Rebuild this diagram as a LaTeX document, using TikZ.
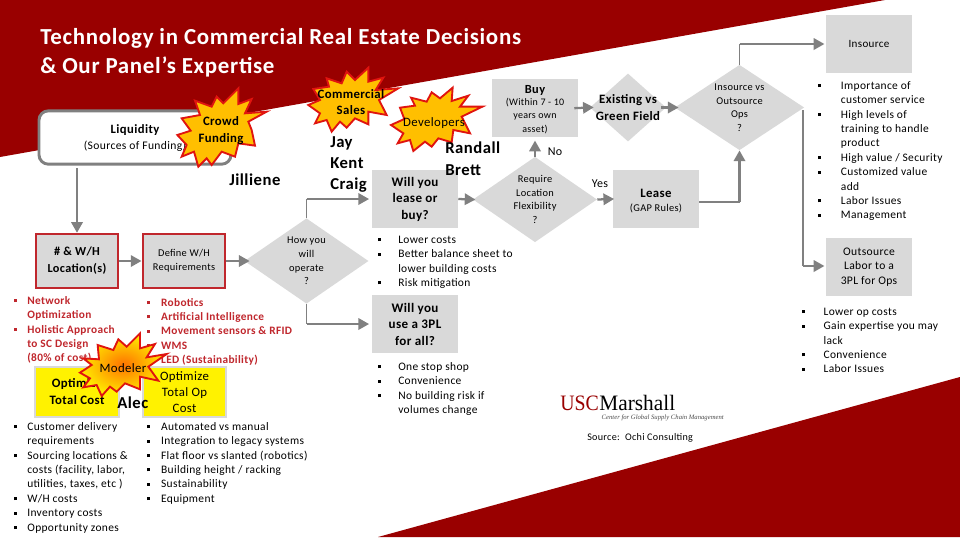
\documentclass[tikz,border=0pt]{standalone}
\usepackage{fontspec}
\setmainfont{Carlito}[LetterSpace=3]
\newfontfamily\serifl{Liberation Serif}
\usetikzlibrary{shapes.geometric,arrows.meta}
\definecolor{dred}{HTML}{990000}
\definecolor{lgray}{HTML}{D9D9D9}
\definecolor{agray}{HTML}{808080}
\definecolor{bred}{HTML}{C0272D}
\definecolor{sred}{HTML}{E0140F}
\definecolor{sfill}{HTML}{FFBF00}
\newlength\bind
\newcommand\bl[1]{\makebox[\bind][l]{\raisebox{1.6pt}{\rule{2.2pt}{2.2pt}}}\strut #1}
\newcommand\cl[1]{\hspace*{\bind}\strut #1}
\newcommand\Fs[2]{\fontsize{#1}{#2}\selectfont}
\tikzset{
  gbox/.style={fill=lgray,minimum width=64.5pt,minimum height=43.5pt,inner sep=0pt,align=center},
  rbox/.style={gbox,draw=bred,line width=1.3pt,minimum width=61.5pt,minimum height=41pt},
  ybox/.style={fill=yellow,draw=lgray,line width=1.3pt,minimum width=62.5pt,minimum height=37pt,inner sep=0pt,align=center},
  dia/.style={diamond,fill=lgray,inner sep=0pt},
  txt/.style={inner sep=0pt,align=center},
  person/.style={inner sep=0pt,anchor=west,font=\bfseries\Fs{12.5}{15}},
  lst/.style={inner sep=0pt,anchor=north west,align=left,font=\Fs{8.6}{10.8},execute at begin node={\setlength\bind{#1}}},
  thinl/.style={draw=agray,line width=.9pt},
  arr/.style={draw=agray,line width=1.7pt,-{Triangle[length=8pt,width=8.5pt]}},
  starb/.style={draw=sred,line width=1.4pt,fill=sfill,miter limit=6},
}
\begin{document}
\begin{tikzpicture}[x=.75pt,y=-.75pt]
\useasboundingbox (0,0) rectangle (960,540);
\fill[white] (0,0) rectangle (960,540);
% wedges
\fill[dred] (0,0) -- (885,0) -- (0,157) -- cycle;
\fill[dred] (378,537) -- (960,377) -- (960,537) -- cycle;
% title
\node[inner sep=0pt,anchor=west,text=white,font=\Fs{17.2}{22}] (title1) at (40,38) {\bfseries Technology in Commercial Real Estate Decisions};
\node[inner sep=0pt,anchor=west,text=white,font=\Fs{17.2}{22}] (title2) at (40,67) {\bfseries \& Our Panel’s Expertise};
% liquidity
\node[draw=agray,line width=2.2pt,fill=white,rounded corners=7pt,minimum width=144pt,minimum height=40pt,inner sep=0pt] (liq) at (135,137.5) {};
\node[txt,font=\bfseries\Fs{9.5}{12}] (liqt) at (135,130) {Liquidity};
\node[txt,font=\Fs{8.7}{12}] (liqs) at (135,146) {(Sources of Funding)};
% boxes
\node[rbox,font=\bfseries\Fs{9.2}{12.6}] (wh) at (77,261) {\# \& W/H\\Location(s)};
\node[rbox,font=\Fs{7.8}{10.6}] (def) at (184,261) {Define W/H\\Requirements};
\node[dia,minimum width=93pt,minimum height=64pt,label={[txt,font=\Fs{7.8}{10.3}]center:How you\\will\\operate\\?}] (how) at (306.5,261) {};
\node[gbox,font=\bfseries\Fs{9.8}{12.4}] (lob) at (415,199) {Will you\\lease or\\buy?};
\node[gbox,font=\bfseries\Fs{9.8}{12.4}] (tpl) at (415,324) {Will you\\use a 3PL\\for all?};
\node[dia,minimum width=93pt,minimum height=64pt,label={[txt,font=\Fs{7.8}{10.2}]center:Require\\Location\\Flexibility\\?}] (req) at (535,199.5) {};
\node[gbox] (buy) at (535,108) {};
\node[txt,font=\bfseries\Fs{9.3}{12}] (buyt) at (535,90) {Buy};
\node[txt,font=\Fs{7.5}{9.8}] (buys) at (535,116) {(Within 7 - 10\\years own\\asset)};
\node[dia,minimum width=57pt,minimum height=51pt,label={[txt,font=\bfseries\Fs{9.6}{12.8}]center:Existing vs\\Green Field}] (ex) at (628,107.5) {};
\node[dia,minimum width=97pt,minimum height=64pt,label={[txt,font=\Fs{7.8}{10.2}]center:Insource vs\\Outsource\\Ops\\?}] (ins) at (739.5,107.5) {};
\node[gbox] (lease) at (656,199) {};
\node[txt,font=\bfseries\Fs{9.6}{12}] (leaset) at (656,193) {Lease};
\node[txt,font=\Fs{7.8}{10}] (leases) at (656,208) {(GAP Rules)};
\node[gbox,font=\Fs{8.3}{10}] (insrc) at (869,44) {Insource};
\node[gbox,font=\Fs{8.7}{10.9}] (out) at (869,267) {Outsource\\Labor to a\\3PL for Ops};
\node[ybox,font=\bfseries\Fs{9.6}{12.7}] (yb1) at (77,392) {Optimize\\Total Cost};
\node[ybox,font=\Fs{9.6}{12.2}] (yb2) at (184.5,392) {Optimize\\Total Op\\Cost};
% connectors
\draw[arr] (liq.south -| wh.north) ++(0,2.5) -- (wh.north);
\draw[arr,shorten >=.5pt] (wh.east) -- (def.west);
\draw[arr,shorten >=-4pt] (def.east) -- (how.west);
\coordinate (c1) at (how.north |- lob.west);
\coordinate (c2) at (how.south |- tpl.west);
\draw[thinl] (how.north) -- (c1);
\draw[arr,shorten >=2pt] (c1) -- (lob.west);
\draw[thinl] (how.south) -- (c2);
\draw[arr,shorten >=2pt] (c2) -- (tpl.west);
\draw[arr,shorten >=-2pt] (lob.east) -- (req.west);
\draw[arr,shorten >=2.5pt] (req.north) -- (buy.south);
\draw[arr,shorten >=-1pt] (req.east) -- (lease.west);
\draw[arr,shorten <=-3pt,shorten >=-3pt] (buy.east) -- (ex.west);
\draw[arr,shorten <=-4pt,shorten >=-3pt] (ex.east) -- (ins.west);
\coordinate (c3) at (ins.north |- insrc.west);
\draw[thinl] (ins.north) -- (c3);
\draw[arr,shorten >=1pt] (c3) -- (insrc.west);
\coordinate (c4) at (ins.south |- 0,202);
\draw[thinl] (lease.east |- c4) -- (c4);
\draw[arr] (c4) -- (ins.south);
\coordinate (c5) at (803,266);
\draw[thinl] (803,110) -- (c5);
\draw[arr,shorten >=1pt] (c5) -- (out.west |- c5);
% lists
\node[lst=9.8pt,text=bred,font=\bfseries\Fs{8.5}{10.8}] (l1) at (14,294) {\bl{Network}\\\cl{Optimization}\\\bl{Holistic Approach}\\\cl{to SC Design}\\\cl{(80\% of cost)}};
\node[lst=10.4pt,text=bred,font=\bfseries\Fs{8.5}{10.7}] (l2) at (147,296) {\bl{Robotics}\\\bl{Artificial Intelligence}\\\bl{Movement sensors \& RFID}\\\bl{WMS}\\\bl{LED (Sustainability)}};
\node[lst=9.8pt] (l3) at (14,420) {\bl{Customer delivery}\\\cl{requirements}\\\bl{Sourcing locations \&}\\\cl{costs (facility, labor,}\\\cl{utilities, taxes, etc )}\\\bl{W/H costs}\\\bl{Inventory costs}\\\bl{Opportunity zones}};
\node[lst=10.4pt] (l4) at (147,420) {\bl{Automated vs manual}\\\bl{Integration to legacy systems}\\\bl{Flat floor vs slanted (robotics)}\\\bl{Building height / racking}\\\bl{Sustainability}\\\bl{Equipment}};
\node[lst=15pt] (l5) at (378,233) {\bl{Lower costs}\\\bl{Better balance sheet to}\\\cl{lower building costs}\\\bl{Risk mitigation}};
\node[lst=15pt] (l6) at (378,360) {\bl{One stop shop}\\\bl{Convenience}\\\bl{No building risk if}\\\cl{volumes change}};
\node[lst=17pt] (l7) at (818,79) {\bl{Importance of}\\\cl{customer service}\\\bl{High levels of}\\\cl{training to handle}\\\cl{product}\\\bl{High value / Security}\\\bl{Customized value}\\\cl{add}\\\bl{Labor Issues}\\\bl{Management}};
\node[lst=16pt] (l8) at (802,305) {\bl{Lower op costs}\\\bl{Gain expertise you may}\\\cl{lack}\\\bl{Convenience}\\\bl{Labor Issues}};
% labels
\node[txt,font=\Fs{9}{11}] (no) at (555,152) {No};
\node[txt,font=\Fs{9}{11}] (yes) at (600,184) {Yes};
% logo and source
\node[inner sep=0pt,anchor=base west,font=\serifl\Fs{16.5}{18},text=dred] (usc) at (560,410) {\scalebox{.9}[1]{USC}};
\node[inner sep=0pt,anchor=base west,font=\serifl\Fs{16.5}{18}] (marsh) at (usc.base east) {\scalebox{.97}[1]{Marshall}};
\node[inner sep=0pt,anchor=base east,font=\serifl\itshape\Fs{5}{6},text=black!70] (ctr) at (724,419) {Center for Global Supply Chain Management};
\node[inner sep=0pt,anchor=west,font=\Fs{7.6}{9}] (src) at (587,438) {Source:\ \ Ochi Consulting};
% stars
\begin{scope}[shift={(170,80)},x=.25pt,y=-.25pt]
\draw[starb] (22,165)--(62,152)--(35,115)--(90,105)--(75,62)--(125,80)--(140,50)--(160,70)--(205,25)--(205,72)--(245,57)--(225,100)--(290,95)--(235,125)--(245,150)--(255,197)--(205,190)--(195,230)--(155,215)--(125,255)--(110,235)--(85,260)--(72,215)--(35,230)--(50,195)--cycle;
\end{scope}
\begin{scope}[shift={(305,65)},x=.25pt,y=-.25pt]
\draw[starb] (10,120)--(45,105)--(25,72)--(72,65)--(65,40)--(110,55)--(125,20)--(150,45)--(190,8)--(190,50)--(235,38)--(212,75)--(280,70)--(222,105)--(245,150)--(190,140)--(190,178)--(150,160)--(125,188)--(105,170)--(80,200)--(65,165)--(30,175)--(45,145)--cycle;
\draw[starb] (258,180)--(298,162)--(285,128)--(330,122)--(318,98)--(365,110)--(380,82)--(405,100)--(443,68)--(440,108)--(490,92)--(465,125)--(532,125)--(470,155)--(495,205)--(445,195)--(440,232)--(400,220)--(380,245)--(360,230)--(325,258)--(315,225)--(278,235)--(295,205)--cycle;
\end{scope}
\begin{scope}[shift={(75,330)},x=.25pt,y=-.25pt]
\shadedraw[starb,inner color=orange!90!red,outer color=yellow!85!orange] (15,128)--(50,105)--(25,85)--(72,88)--(68,45)--(115,60)--(130,28)--(155,50)--(195,10)--(195,55)--(240,42)--(215,82)--(275,72)--(220,110)--(250,152)--(195,140)--(195,178)--(150,160)--(125,185)--(105,170)--(80,198)--(65,165)--(25,172)--(45,145)--cycle;
\end{scope}
\node[txt,font=\bfseries\Fs{9.6}{12.7}] (crowd) at (221,130.5) {Crowd\\Funding};
\node[txt,font=\bfseries\Fs{9.6}{12}] (comm) at (351,102) {Commercial\\Sales};
\node[txt,font=\Fs{9.6}{12}] (dev) at (434,123) {Developers};
\node[txt,font=\Fs{9.6}{12}] (mod) at (123,368) {Modeler};
% names
\node[person] (jay) at (330,143) {Jay};
\node[person] (kent) at (330,163) {Kent};
\node[person] (craig) at (330,185) {Craig};
\node[person] (randall) at (445,148) {Randall};
\node[person] (brett) at (445,170) {Brett};
\node[person] (jill) at (229,180) {Jilliene};
\node[person] (alec) at (117,403) {Alec};
\end{tikzpicture}
\end{document}
